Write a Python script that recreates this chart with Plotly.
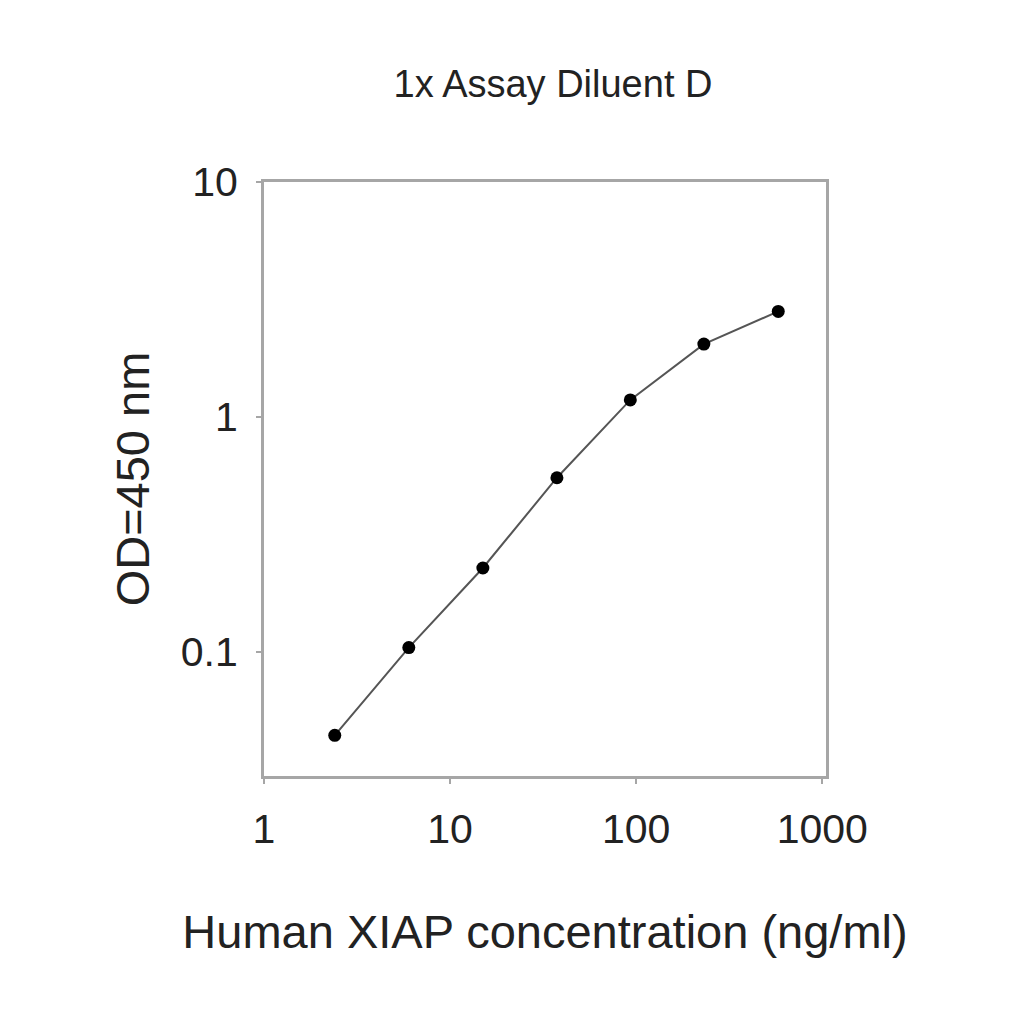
import plotly.graph_objects as go

# standard curve, 1x Assay Diluent D
concentration = [2.4, 6.0, 15.0, 37.5, 93.0, 231.0, 580.0]  # ng/ml
od_450 = [0.044, 0.104, 0.227, 0.55, 1.18, 2.04, 2.81]

x_ticks = [1, 10, 100, 1000]
y_ticks = [0.1, 1, 10]

FONT = "Liberation Sans, Arial, sans-serif"
FRAME = "#a6a6a6"

fig = go.Figure()

fig.add_trace(
    go.Scatter(
        x=concentration,
        y=od_450,
        mode="lines+markers",
        line=dict(color="#555555", width=2),
        marker=dict(color="black", size=13),
        showlegend=False,
    )
)

axis_common = dict(
    showline=True,
    mirror=True,
    linecolor=FRAME,
    linewidth=3,
    showgrid=False,
    zeroline=False,
    ticks="outside",
    ticklen=5,
    tickwidth=2,
    tickcolor=FRAME,
    ticklabelstandoff=10,
    tickfont=dict(size=41, color="#222222", family=FONT),
)

fig.update_xaxes(
    type="log",
    range=[0, 3.02],
    tickvals=x_ticks,
    ticktext=[str(v) for v in x_ticks],
    title=dict(
        text="Human XIAP concentration (ng/ml)",
        font=dict(size=47, color="#222222", family=FONT),
        standoff=64,
    ),
    **axis_common,
)

fig.update_yaxes(
    type="log",
    range=[-1.53, 1],
    tickvals=y_ticks,
    ticktext=[str(v) for v in y_ticks],
    title=dict(
        text="OD=450 nm",
        font=dict(size=47, color="#222222", family=FONT),
        standoff=17,
    ),
    **axis_common,
)

fig.update_layout(
    width=1024,
    height=1024,
    margin=dict(l=256, r=206, t=174, b=256),
    plot_bgcolor="white",
    paper_bgcolor="white",
    title=dict(
        text="1x Assay Diluent D",
        font=dict(size=38, color="#222222", family=FONT),
        x=545 / 1024,
        xanchor="center",
        y=1 - 76 / 1024,
        yanchor="middle",
    ),
)

fig.write_html("out.html")
